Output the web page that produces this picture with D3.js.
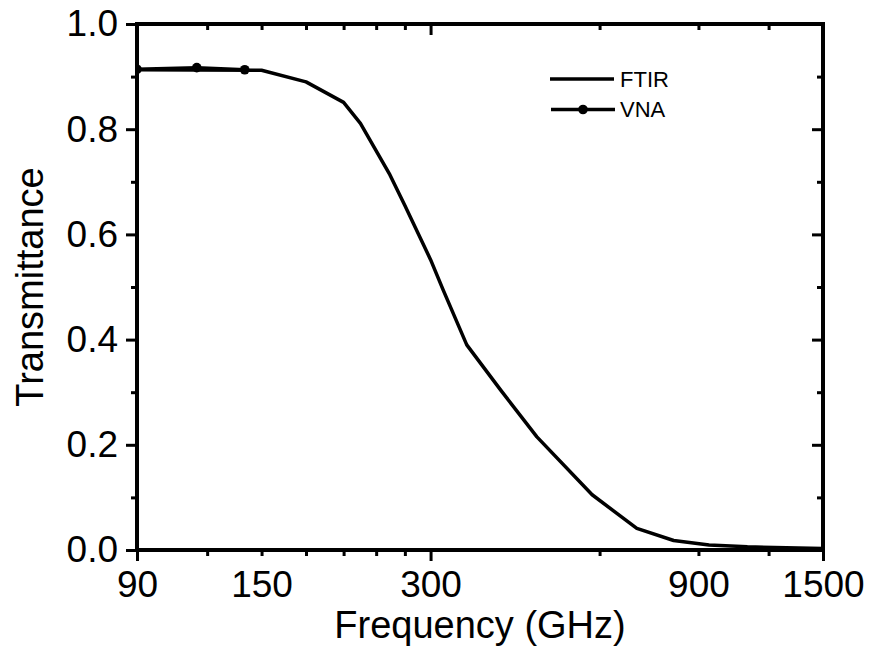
<!DOCTYPE html>
<html>
<head>
<meta charset="utf-8">
<script src="https://cdn.jsdelivr.net/npm/d3@7"></script>
<style>
  body { margin: 0; background: #fff; }
  svg { font-family: "Liberation Sans", Arial, sans-serif; }
</style>
</head>
<body>
<svg id="chart"></svg>
<script>
// FTIR transmittance curve
const ftirFreq = [90, 150, 180, 210, 225, 254, 270, 300, 316, 348, 400, 464, 582, 699, 813, 940, 1100, 1500];
const ftirT = [0.913, 0.912, 0.890, 0.851, 0.811, 0.713, 0.655, 0.552, 0.494, 0.390, 0.304, 0.215, 0.105, 0.041, 0.018, 0.0095, 0.006, 0.003];

// VNA measurement points
const vnaFreq = [90, 115, 140];
const vnaT = [0.914, 0.917, 0.913];

// Axis ticks
const xLabels = [90, 150, 300, 900, 1500];
const xMajor = [90, 300, 1500];
const xMinor = [120, 150, 180, 210, 240, 270, 600, 900, 1200];
const yMajor = [0, 0.2, 0.4, 0.6, 0.8, 1.0];
const yMinor = [0.1, 0.3, 0.5, 0.7, 0.9];

const margin = { top: 24, right: 50, bottom: 99, left: 137 };
const width = 873 - margin.left - margin.right;
const height = 649 - margin.top - margin.bottom;

const root = d3.select("#chart")
    .attr("width", 873)
    .attr("height", 649);

const svg = root.append("g")
    .attr("transform", `translate(${margin.left},${margin.top})`);

const x = d3.scaleLog().domain([90, 1500]).range([0, width]);
const y = d3.scaleLinear().domain([0, 1]).range([height, 0]);

// clip to plot area
svg.append("defs").append("clipPath")
    .attr("id", "plotClip")
    .append("rect")
    .attr("width", width)
    .attr("height", height);

// tick helper
function ticks(axis, vals, size) {
    const g = svg.append("g").call(axis.tickValues(vals).tickSize(size).tickFormat(""));
    g.select(".domain").remove();
    g.selectAll(".tick line").attr("stroke", "#000").attr("stroke-width", 3);
    return g;
}

// bottom ticks (outward)
ticks(d3.axisBottom(x), xMajor, 11).attr("transform", `translate(0,${height})`);
ticks(d3.axisBottom(x), xMinor, 6).attr("transform", `translate(0,${height})`);
// top ticks (inward)
ticks(d3.axisBottom(x), xMajor, 11);
ticks(d3.axisBottom(x), xMinor, 6);
// left ticks (outward)
ticks(d3.axisLeft(y), yMajor, 11);
ticks(d3.axisLeft(y), yMinor, 6);
// right ticks (inward)
ticks(d3.axisLeft(y), yMajor, 11).attr("transform", `translate(${width},0)`);
ticks(d3.axisLeft(y), yMinor, 6).attr("transform", `translate(${width},0)`);

// tick labels
const xLab = svg.append("g")
    .attr("transform", `translate(0,${height})`)
    .call(d3.axisBottom(x).tickValues(xLabels).tickSize(0).tickPadding(21).tickFormat(d3.format("d")));
xLab.select(".domain").remove();
xLab.selectAll("text").style("font-size", "37px").attr("fill", "#000");

const yLab = svg.append("g")
    .call(d3.axisLeft(y).tickValues(yMajor).tickSize(0).tickPadding(19).tickFormat(d3.format(".1f")));
yLab.select(".domain").remove();
yLab.selectAll("text").style("font-size", "37px").attr("fill", "#000");

// frame
svg.append("rect")
    .attr("width", width)
    .attr("height", height)
    .attr("fill", "none")
    .attr("stroke", "#000")
    .attr("stroke-width", 4);

// curves
const ftir = ftirFreq.map((f, i) => ({ f: f, t: ftirT[i] }));
const vna = vnaFreq.map((f, i) => ({ f: f, t: vnaT[i] }));

const line = d3.line()
    .x(d => x(d.f))
    .y(d => y(d.t));

const plot = svg.append("g").attr("clip-path", "url(#plotClip)");

plot.append("path")
    .datum(ftir)
    .attr("d", line)
    .attr("fill", "none")
    .attr("stroke", "#000")
    .attr("stroke-width", 3.5)
    .attr("stroke-linejoin", "round");

plot.append("path")
    .datum(vna)
    .attr("d", line)
    .attr("fill", "none")
    .attr("stroke", "#000")
    .attr("stroke-width", 3.5)
    .attr("stroke-linejoin", "round");

plot.selectAll(".vna-dot")
    .data(vna)
    .enter().append("circle")
    .attr("class", "vna-dot")
    .attr("cx", d => x(d.f))
    .attr("cy", d => y(d.t))
    .attr("r", 4.8)
    .attr("fill", "#000");

// axis titles
svg.append("text")
    .attr("x", width / 2)
    .attr("y", height + 88)
    .attr("text-anchor", "middle")
    .style("font-size", "38px")
    .text("Frequency (GHz)");

svg.append("text")
    .attr("transform", `translate(${43 - margin.left},${height / 2}) rotate(-90)`)
    .attr("text-anchor", "middle")
    .style("font-size", "38px")
    .text("Transmittance");

// legend
const legend = root.append("g");
legend.append("line")
    .attr("x1", 550).attr("x2", 614)
    .attr("y1", 79).attr("y2", 79)
    .attr("stroke", "#000").attr("stroke-width", 3.5);
legend.append("text")
    .attr("x", 620).attr("y", 87)
    .style("font-size", "22px")
    .text("FTIR");

legend.append("line")
    .attr("x1", 551).attr("x2", 615)
    .attr("y1", 109.5).attr("y2", 109.5)
    .attr("stroke", "#000").attr("stroke-width", 3.5);
legend.append("circle")
    .attr("cx", 583).attr("cy", 109.5)
    .attr("r", 4.8)
    .attr("fill", "#000");
legend.append("text")
    .attr("x", 620).attr("y", 117)
    .style("font-size", "22px")
    .text("VNA");
</script>
</body>
</html>
